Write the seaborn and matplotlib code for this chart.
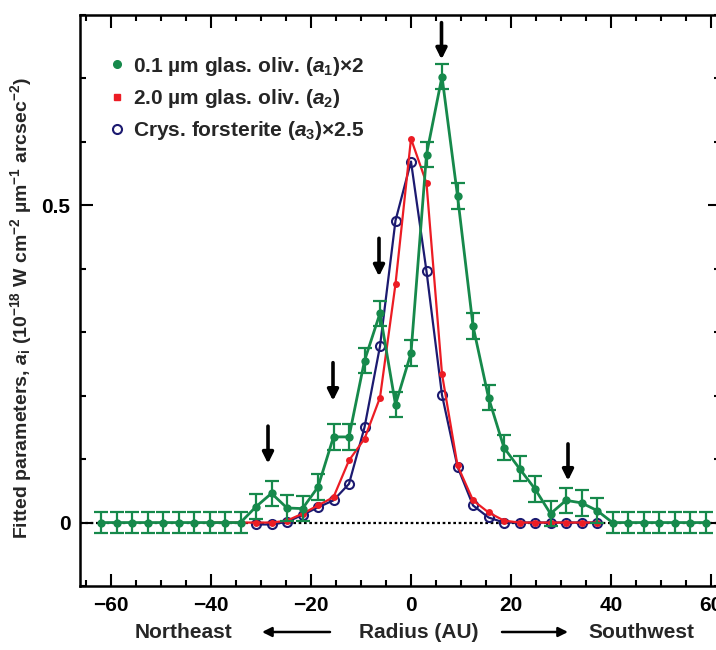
import matplotlib
matplotlib.use("Agg")
import matplotlib.pyplot as plt
import seaborn as sns
import pandas as pd
from matplotlib.lines import Line2D
from matplotlib.patches import FancyArrowPatch
from matplotlib.ticker import MultipleLocator, FuncFormatter

# Radial sampling positions (AU), negative = northeast, positive = southwest
radius_au = [-62.0, -58.9, -55.8, -52.7, -49.6, -46.5, -43.4, -40.3, -37.2, -34.1,
             -31.0, -27.9, -24.8, -21.7, -18.6, -15.5, -12.4, -9.3, -6.2, -3.1,
             0.0, 3.1, 6.2, 9.3, 12.4, 15.5, 18.6, 21.7, 24.8, 27.9,
             31.0, 34.1, 37.2, 40.3, 43.4, 46.5, 49.6, 52.7, 55.8, 58.9]

# 0.1 um glassy olivine (a1 x 2) with 1-sigma errors
small_olivine = [0.0, 0.0, 0.0, 0.0, 0.0, 0.0, 0.0, 0.0, 0.0, 0.0,
                 0.025, 0.046, 0.023, 0.022, 0.056, 0.135, 0.135, 0.255, 0.330, 0.186,
                 0.267, 0.580, 0.703, 0.515, 0.310, 0.197, 0.118, 0.085, 0.053, 0.014,
                 0.035, 0.031, 0.019, 0.0, 0.0, 0.0, 0.0, 0.0, 0.0, 0.0]
small_olivine_err = [0.017] * 10 + [0.02] * 23 + [0.017] * 7

# 2.0 um glassy olivine (a2)
large_radius = radius_au[7:33]
large_olivine = [0.0, 0.0, 0.0, 0.0, 0.0, 0.003, 0.014, 0.027, 0.040, 0.098,
                 0.132, 0.197, 0.376, 0.605, 0.535, 0.234, 0.090, 0.035, 0.016, 0.003,
                 0.0, 0.0, 0.0, 0.0, 0.0, 0.0]

# Crystalline forsterite (a3 x 2.5)
forst_radius = radius_au[10:33]
forsterite = [-0.003, -0.003, 0.001, 0.012, 0.024, 0.035, 0.061, 0.150, 0.278, 0.476,
              0.569, 0.396, 0.201, 0.088, 0.027, 0.008, 0.0, 0.0, 0.0, 0.0,
              0.0, 0.0, 0.0]

# Features marked with arrows: radius (AU), arrow tip and tail heights
feature_x = [-28.6, -15.6, -6.4, 6.1, 31.4]
feature_tip = [0.093, 0.192, 0.388, 0.730, 0.066]
feature_tail = [0.152, 0.252, 0.448, 0.788, 0.124]

legend_labels = ["0.1 µm glas. oliv. ($a_1$)×2",
                 "2.0 µm glas. oliv. ($a_2$)",
                 "Crys. forsterite ($a_3$)×2.5"]

GREEN = "#16894b"
RED = "#ec1c24"
NAVY = "#1c1a70"

sns.set_theme(style="ticks")
plt.rcParams["font.family"] = ["Liberation Sans", "DejaVu Sans"]
plt.rcParams["font.weight"] = "bold"
plt.rcParams["axes.labelweight"] = "bold"
plt.rcParams["mathtext.fontset"] = "custom"
plt.rcParams["mathtext.rm"] = "Liberation Sans:bold"
plt.rcParams["mathtext.it"] = "Liberation Sans:italic:bold"
plt.rcParams["mathtext.bf"] = "Liberation Sans:bold"

fig = plt.figure(figsize=(7.16, 6.5), dpi=100)
ax = fig.add_axes([80 / 716, 64 / 650, 640 / 716, 571 / 650])

df_small = pd.DataFrame({"r": radius_au, "a": small_olivine, "e": small_olivine_err})
df_large = pd.DataFrame({"r": large_radius, "a": large_olivine})
df_forst = pd.DataFrame({"r": forst_radius, "a": forsterite})

ax.axhline(0, color="black", ls=(0, (1.2, 1.2)), lw=1.6, zorder=1)

sns.lineplot(data=df_forst, x="r", y="a", ax=ax, sort=False, estimator=None,
             color=NAVY, lw=1.6, marker="o", markersize=6.5, markerfacecolor="none",
             markeredgecolor=NAVY, markeredgewidth=1.5, zorder=3)
sns.lineplot(data=df_large, x="r", y="a", ax=ax, sort=False, estimator=None,
             color=RED, lw=1.6, marker="o", markersize=5, markeredgewidth=0, zorder=4)
ax.errorbar(df_small["r"], df_small["a"], yerr=df_small["e"], fmt="none",
            ecolor=GREEN, elinewidth=1.6, capsize=5, capthick=1.6, zorder=5)
sns.lineplot(data=df_small, x="r", y="a", ax=ax, sort=False, estimator=None,
             color=GREEN, lw=2.0, marker="o", markersize=6, markeredgewidth=0, zorder=6)

for fx, tip, tail in zip(feature_x, feature_tip, feature_tail):
    ax.annotate("", xy=(fx, tip), xytext=(fx, tail),
                arrowprops=dict(arrowstyle="-|>", color="black", lw=2.6,
                                mutation_scale=16, shrinkA=0, shrinkB=0),
                zorder=7)

ax.set_xlim(-66.2, 61.8)
ax.set_ylim(-0.1, 0.8)
ax.xaxis.set_major_locator(MultipleLocator(20))
ax.xaxis.set_minor_locator(MultipleLocator(5))
ax.yaxis.set_major_locator(MultipleLocator(0.5))
ax.yaxis.set_minor_locator(MultipleLocator(0.1))
ax.yaxis.set_major_formatter(FuncFormatter(lambda v, p: "0" if abs(v) < 1e-9 else f"{v:g}"))
ax.tick_params(which="both", direction="in", top=True, right=True, width=1.5,
               colors="black", labelsize=15)
ax.tick_params(which="major", length=9, pad=7)
ax.tick_params(which="minor", length=4.5)
for s in ax.spines.values():
    s.set_linewidth(1.8)
    s.set_color("black")

ax.set_xlabel("")
ax.set_ylabel(r"Fitted parameters, $a_\mathrm{i}$ (10$^{-18}$ W cm$^{-2}$ µm$^{-1}$ arcsec$^{-2}$)",
              fontsize=14, fontweight="bold")
ax.yaxis.set_label_coords(-0.072, 0.487)

handles = [
    Line2D([], [], ls="none", marker="o", color=GREEN, markersize=5.5),
    Line2D([], [], ls="none", marker="s", color=RED, markersize=5),
    Line2D([], [], ls="none", marker="o", markerfacecolor="none",
           markeredgecolor=NAVY, markeredgewidth=1.5, markersize=6.5),
]
ax.legend(handles, legend_labels, loc="upper left", bbox_to_anchor=(0.035, 0.945),
          frameon=False, fontsize=15, handlelength=0.6, handletextpad=0.45,
          labelspacing=0.45, borderaxespad=0)

# Direction annotation under the radius axis
fig.text(184 / 716, 18 / 650, "Northeast", ha="center", va="center", fontsize=15)
fig.text(419 / 716, 18 / 650, "Radius (AU)", ha="center", va="center", fontsize=15)
fig.text(641 / 716, 18 / 650, "Southwest", ha="center", va="center", fontsize=15)
arrow_kw = dict(arrowstyle="-|>", color="black", lw=1.8, mutation_scale=14,
                shrinkA=0, shrinkB=0)
fig.add_artist(FancyArrowPatch((330 / 716, 18 / 650), (262 / 716, 18 / 650),
                               transform=fig.transFigure, **arrow_kw))
fig.add_artist(FancyArrowPatch((502 / 716, 18 / 650), (568 / 716, 18 / 650),
                               transform=fig.transFigure, **arrow_kw))

fig.savefig("out.png", dpi=100)
